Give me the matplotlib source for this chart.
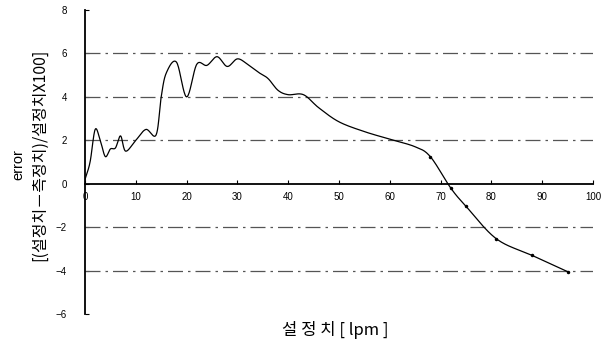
import numpy as np
import matplotlib
matplotlib.use('Agg')
import matplotlib.pyplot as plt

plt.rcParams['font.family'] = ['Noto Sans CJK KR', 'DejaVu Sans']

#===================================================================
#                 values
#===================================================================
setting = [0, 1, 2, 3, 4, 5, 6, 7, 8, 10, 12, 14, 15, 16, 18, 20, 22, 24,
           26, 28, 30, 32, 34, 36, 38, 40, 43, 46, 50, 55, 60, 65, 68, 72,
           75, 81, 88, 95]
error = [0.2, 1.0, 2.5, 2.0, 1.25, 1.6, 1.65, 2.2, 1.5, 2.0, 2.5, 2.25, 4.0,
         5.1, 5.6, 4.0, 5.5, 5.45, 5.85, 5.4, 5.75, 5.5, 5.15, 4.85, 4.3,
         4.1, 4.1, 3.5, 2.85, 2.4, 2.05, 1.7, 1.24, -0.2, -1.04, -2.54,
         -3.3, -4.05]
grid_levels = [6, 4, 2, -2, -4]
xticks = list(range(0, 101, 10))
yticks = list(range(-6, 9, 2))

#===================================================================
#          smoothed line (Catmull-Rom, like excel smoothing)
#===================================================================
def smooth(x, y, n=20):
    x = np.asarray(x, float); y = np.asarray(y, float)
    px = np.concatenate([[2*x[0]-x[1]], x, [2*x[-1]-x[-2]]])
    py = np.concatenate([[2*y[0]-y[1]], y, [2*y[-1]-y[-2]]])
    xs = []; ys = []
    t = np.linspace(0, 1, n, endpoint=False)
    for i in range(1, len(px)-2):
        for p, out in ((px, xs), (py, ys)):
            p0, p1, p2, p3 = p[i-1], p[i], p[i+1], p[i+2]
            out.extend(0.5*((2*p1) + (-p0+p2)*t + (2*p0-5*p1+4*p2-p3)*t**2
                            + (-p0+3*p1-3*p2+p3)*t**3))
    xs.append(x[-1]); ys.append(y[-1])
    return np.array(xs), np.array(ys)

fig = plt.figure(figsize=(6.03, 3.49), dpi=100)
ax = fig.add_axes([85/603, 35/349, 508/603, 304/349])

for g in grid_levels:
    ax.plot([0, 100], [g, g], color='#555555', lw=0.9, ls='-.', dashes=(12, 4, 2, 4))

sx, sy = smooth(setting, error)
ax.plot(sx, sy, color='black', lw=0.9)
ax.plot(setting[-6:], error[-6:], 'o', ms=1.5, color='black')

ax.set_xlim(0, 100)
ax.set_ylim(-6, 8)
ax.set_xticks(xticks)
ax.set_yticks(yticks)
ax.spines['top'].set_visible(False)
ax.spines['right'].set_visible(False)
ax.spines['bottom'].set_position(('data', 0))
ax.spines['left'].set_linewidth(1.3)
ax.spines['bottom'].set_linewidth(1.3)
ax.spines['bottom'].set_clip_on(False)
ax.tick_params(axis='both', labelsize=7, labelfontfamily='Liberation Sans')
ax.tick_params(axis='x', direction='in', length=3, pad=6)
ax.tick_params(axis='y', direction='in', length=3, pad=13)

fig.text(18/603, 1-165/349, 'error', rotation=90, fontsize=10.5, ha='center', va='center',
         family=['Liberation Sans', 'DejaVu Sans'])
fig.text(40/603, 1-155/349, '[(설정치－측정치)/설정치X100]', rotation=90, fontsize=11.5,
         ha='center', va='center')
fig.text(335/603, 1-330/349, '설 정 치 [ lpm ]', fontsize=12, ha='center', va='center')

plt.savefig('out.png', dpi=100)
